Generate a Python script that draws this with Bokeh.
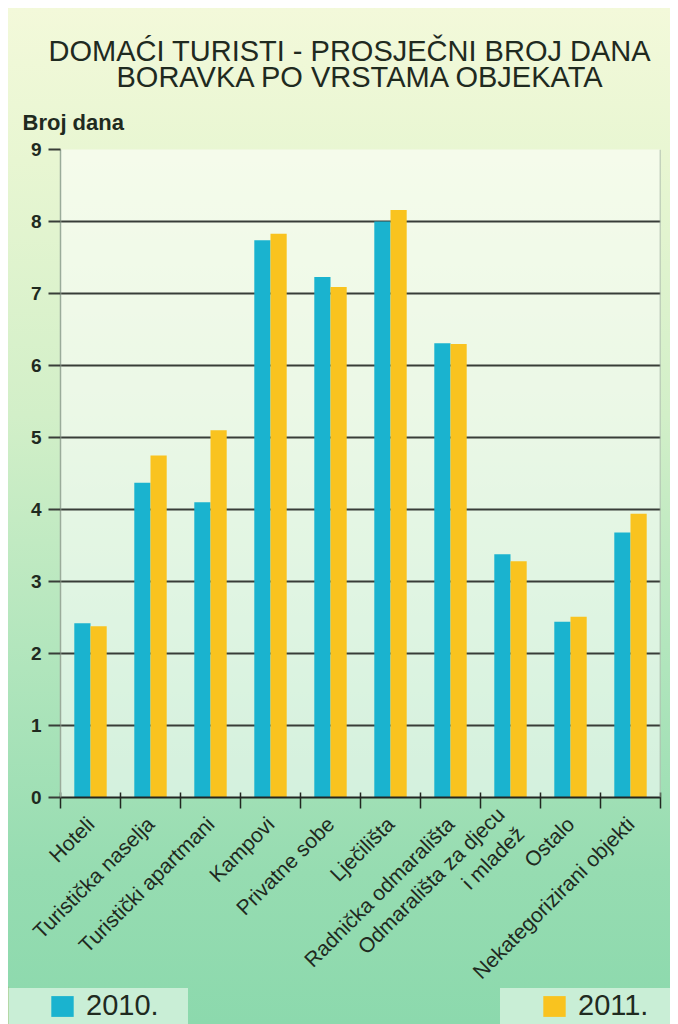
import math
from bokeh.plotting import figure
from bokeh.layouts import column
from bokeh.models import Range1d, FixedTicker, Legend, LegendItem, Title, Span
from bokeh.embed import file_html
from bokeh.resources import INLINE

# ---- data ----
categories = ["Hoteli", "Turistička naselja", "Turistički apartmani", "Kampovi",
              "Privatne sobe", "Lječilišta", "Radnička odmarališta",
              "Odmarališta za djecu\ni mladež", "Ostalo", "Nekategorizirani objekti"]
values_2010 = [2.42, 4.37, 4.10, 7.74, 7.23, 8.00, 6.31, 3.38, 2.44, 3.68]
values_2011 = [2.38, 4.75, 5.10, 7.83, 7.09, 8.16, 6.30, 3.28, 2.51, 3.94]
series_names = ["2010.", "2011."]
y_ticks = [0, 1, 2, 3, 4, 5, 6, 7, 8, 9]
title_lines = ["DOMAĆI TURISTI - PROSJEČNI BROJ DANA", "BORAVKA PO VRSTAMA OBJEKATA"]
y_title = "Broj dana"

FONT = "Liberation Sans"
TXT = "#1f2a1f"
BLUE = "#1ab3cf"
YELLOW = "#f9c31f"
n = len(categories)
centers = [i + 0.5 for i in range(n)]
bw = 0.27

p = figure(width=662, height=990, x_range=Range1d(0, n), y_range=Range1d(0, max(y_ticks)),
           output_backend="svg", toolbar_location=None, title=None,
           min_border_left=52, min_border_right=10, min_border_top=141, min_border_bottom=201)
p.frame_align = False
p.border_fill_color = None
p.background_fill_color = "white"
p.background_fill_alpha = 0.55
p.outline_line_color = None

# titles (first added = closest to the frame)
p.add_layout(Title(text=y_title, align="left", offset=-38, standoff=30,
                   text_font=FONT, text_font_size="22px", text_font_style="bold",
                   text_color=TXT), "above")
p.add_layout(Title(text=title_lines[1], align="left", offset=56, standoff=0,
                   text_font=FONT, text_font_size="29px", text_font_style="normal",
                   text_color=TXT), "above")
p.add_layout(Title(text=title_lines[0], align="left", offset=-12, standoff=-16,
                   text_font=FONT, text_font_size="29px", text_font_style="normal",
                   text_color=TXT), "above")

# bars
r10 = p.vbar(x=[c - bw / 2 for c in centers], top=values_2010, width=bw,
             fill_color=BLUE, line_color=None)
r11 = p.vbar(x=[c + bw / 2 for c in centers], top=values_2011, width=bw,
             fill_color=YELLOW, line_color=None)

# y axis
p.yaxis.ticker = FixedTicker(ticks=y_ticks)
p.yaxis.major_label_text_font = FONT
p.yaxis.major_label_text_font_size = "19px"
p.yaxis.major_label_text_font_style = "bold"
p.yaxis.major_label_text_color = TXT
p.yaxis.major_tick_out = 12
p.yaxis.major_tick_in = 0
p.yaxis.major_tick_line_color = "#383d38"
p.yaxis.major_tick_line_width = 2
p.yaxis.minor_tick_line_color = None
p.yaxis.axis_line_color = "#9aab9a"
p.yaxis.axis_line_width = 1.5
p.yaxis.major_label_standoff = 7

# x axis
p.xaxis.ticker = FixedTicker(ticks=centers, minor_ticks=list(range(n + 1)))
p.xaxis.major_label_overrides = {c: lab for c, lab in zip(centers, categories)}
p.xaxis.major_tick_line_color = None
p.xaxis.major_tick_out = 0
p.xaxis.major_tick_in = 0
p.xaxis.minor_tick_in = 5
p.xaxis.minor_tick_out = 11
p.xaxis.minor_tick_line_color = "#222622"
p.xaxis.minor_tick_line_width = 1.5
p.xaxis.axis_line_color = "#222622"
p.xaxis.axis_line_width = 2
p.xaxis.major_label_orientation = math.pi / 4
p.xaxis.major_label_text_font = FONT
p.xaxis.major_label_text_font_size = "21px"
p.xaxis.major_label_text_color = TXT
p.xaxis.major_label_standoff = 12

# grid
p.xgrid.grid_line_color = None
p.ygrid.grid_line_color = "#383d38"
p.ygrid.grid_line_width = 2

p.add_layout(Span(location=n, dimension="height", line_color="#9aab9a", line_width=1.5))

# legend strip (swatch renderers sit outside the visible range)
lg = figure(width=662, height=38, x_range=Range1d(0, 1), y_range=Range1d(0, 1),
            output_backend="svg", toolbar_location=None, title=None,
            x_axis_location=None, y_axis_location=None, min_border=0)
lg.frame_align = False
lg.margin = (-12, 0, 0, 0)
lg.border_fill_color = None
lg.background_fill_color = None
lg.outline_line_color = None
lg.grid.grid_line_color = None
lg.styles = {"background": (
    "linear-gradient(#c9eed6,#c9eed6) 0px 2px / 180px 36px no-repeat,"
    "linear-gradient(#c9eed6,#c9eed6) 492px 2px / 170px 36px no-repeat")}
s10 = lg.vbar(x=[-5], top=[1], width=0.1, fill_color=BLUE, line_color=None)
s11 = lg.vbar(x=[-5], top=[1], width=0.1, fill_color=YELLOW, line_color=None)
for r, name, loc in [(s10, series_names[0], (40, 2)), (s11, series_names[1], (532, 2))]:
    leg = Legend(items=[LegendItem(label=name, renderers=[r])], location=loc,
                 label_text_font=FONT, label_text_font_size="29px", label_text_color=TXT,
                 glyph_width=28, glyph_height=26, label_height=26, label_standoff=10,
                 padding=0, margin=0, spacing=0,
                 background_fill_alpha=0, border_line_color=None)
    lg.add_layout(leg)

layout = column(p, lg, spacing=0)
layout.margin = (8, 8, 0, 8)
layout.styles = {"background": (
    "linear-gradient(180deg, #f3f9da 0%, #e8f6d2 15%, #d2efc8 40%, #b0e5bc 65%, "
    "#96dcb1 85%, #8cd9ad 100%)")}

open("out.html", "w").write(file_html(layout, INLINE))
